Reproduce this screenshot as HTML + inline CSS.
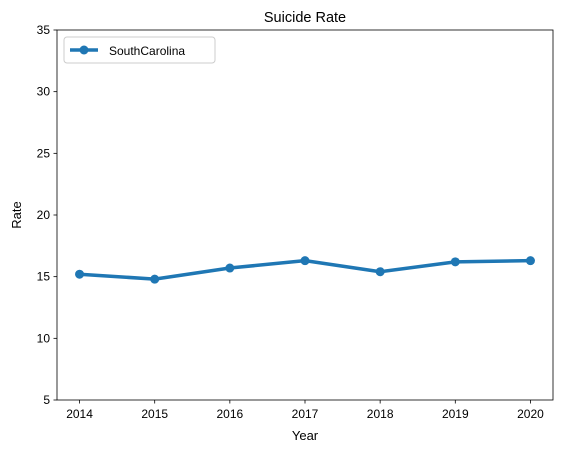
<!DOCTYPE html>
<html><head><meta charset="utf-8"><style>
body{margin:0;background:#fff;}
svg{display:block;font-family:"Liberation Sans","DejaVu Sans",sans-serif;}
</style></head><body>
<svg id="chart" width="563" height="453" xmlns="http://www.w3.org/2000/svg"></svg>
<script>
const years = [2014, 2015, 2016, 2017, 2018, 2019, 2020];
const rates = [15.2, 14.8, 15.7, 16.3, 15.4, 16.2, 16.3];
const yTicks = [5, 10, 15, 20, 25, 30, 35];
const seriesName = "SouthCarolina";

const L = 57, R = 553, T = 30, B = 400;
const xMin = 2013.7, xMax = 2020.3, yMin = 5, yMax = 35;
const xs = v => L + (v - xMin) / (xMax - xMin) * (R - L);
const ys = v => B - (v - yMin) / (yMax - yMin) * (B - T);
const svg = document.getElementById('chart');
const NS = "http://www.w3.org/2000/svg";
function mk(tag, attrs, text) {
  const e = document.createElementNS(NS, tag);
  for (const k in attrs) e.setAttribute(k, attrs[k]);
  if (text !== undefined) e.textContent = text;
  svg.appendChild(e);
  return e;
}
let e;
e = mk('rect', {x: L, y: T, width: R - L, height: B - T, fill: 'none', stroke: '#000', 'stroke-width': 0.8});



yTicks.forEach(t => {
  const y = ys(t);
  e = mk('line', {x1: L - 3.5, x2: L, y1: y, y2: y, stroke: '#000', 'stroke-width': 0.8});
  
  
  e = mk('text', {x: L - 7, y: y + 4, 'text-anchor': 'end', 'font-size': 12, fill: '#000'}, String(t));
  
  
});
years.forEach(t => {
  const x = xs(t);
  e = mk('line', {x1: x, x2: x, y1: B, y2: B + 3.5, stroke: '#000', 'stroke-width': 0.8});
  
  
  e = mk('text', {x: x, y: B + 18, 'text-anchor': 'middle', 'font-size': 12, fill: '#000'}, String(t));
  
  
});

const pts = years.map((y, i) => xs(y) + ',' + ys(rates[i])).join(' ');
e = mk('polyline', {points: pts, fill: 'none', stroke: '#1f77b4', 'stroke-width': 3.5, 'stroke-linejoin': 'round', 'stroke-linecap': 'round'});


years.forEach((y, i) => {
  e = mk('circle', {cx: xs(y), cy: ys(rates[i]), r: 4.5, fill: '#1f77b4'});
  
  
});

e = mk('text', {x: (L + R) / 2, y: 22, 'text-anchor': 'middle', 'font-size': 14.5, fill: '#000'}, 'Suicide Rate');


e = mk('text', {x: (L + R) / 2, y: 440, 'text-anchor': 'middle', 'font-size': 13, fill: '#000'}, 'Year');


e = mk('text', {x: 21, y: (T + B) / 2, 'text-anchor': 'middle', 'font-size': 13, fill: '#000', transform: 'rotate(-90 21 ' + (T + B) / 2 + ')'}, 'Rate');



e = mk('rect', {x: 64, y: 37, width: 151, height: 26, rx: 3, fill: '#fff', stroke: '#ccc', 'stroke-width': 1});


e = mk('line', {x1: 70, x2: 98, y1: 50, y2: 50, stroke: '#1f77b4', 'stroke-width': 3.5});


e = mk('circle', {cx: 84, cy: 50, r: 4.5, fill: '#1f77b4'});


e = mk('text', {x: 109, y: 55, 'font-size': 12, fill: '#000'}, seriesName);


</script>
</body></html>
